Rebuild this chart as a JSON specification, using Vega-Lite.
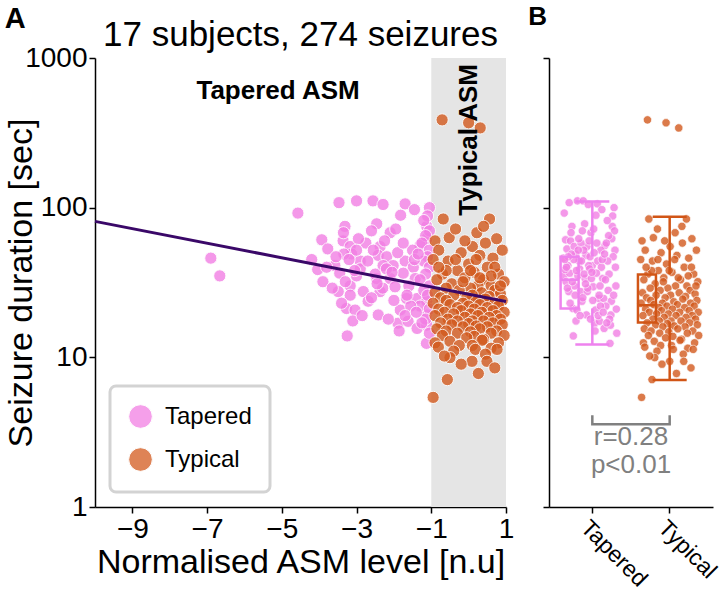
{
"$schema": "https://vega.github.io/schema/vega-lite/v6.json",
"background": "white",
"padding": {"left": 4, "top": 4, "right": 0, "bottom": 4},
"config": {
  "font": "Liberation Sans",
  "view": {"stroke": null},
  "axis": {"grid": false, "domainColor": "black", "domainWidth": 1.5, "tickColor": "black", "tickWidth": 1.5, "tickSize": 6, "labelColor": "black", "labelFontSize": 28, "labelFont": "Liberation Sans", "titleFont": "Liberation Sans", "titleFontWeight": "normal", "titleColor": "black", "titleFontSize": 34, "labelPadding": 2, "labelOverlap": false, "labelFlush": false},
  "legend": {"strokeWidth": 3, "strokeColor": "#d3d3d3", "cornerRadius": 6, "fillColor": "white"},
  "title": {"font": "Liberation Sans", "color": "black"}
},
"title": {"text": "A", "anchor": "start", "frame": "bounds", "fontSize": 29, "fontWeight": "bold", "offset": -30, "dx": 0},
"datasets": {
  "stats": [
    {"g": "Tapered", "lo": 12.2, "q1": 21.2, "med": 33, "q3": 47, "hi": 110},
    {"g": "Typical", "lo": 7.06, "q1": 17.1, "med": 22.3, "q3": 35.7, "hi": 87}
  ],
  "pts": [
{"g":"Tapered","x":-6.9,"y":46},{"g":"Tapered","x":-6.66,"y":35},{"g":"Tapered","x":-4.57,"y":92},{"g":"Tapered","x":-3.47,"y":108},{"g":"Tapered","x":-3.0,"y":111},{"g":"Tapered","x":-2.56,"y":111},{"g":"Tapered","x":-2.29,"y":105},{"g":"Tapered","x":-1.7,"y":106},{"g":"Tapered","x":-1.45,"y":97},{"g":"Tapered","x":-1.82,"y":89},
{"g":"Tapered","x":-3.31,"y":75},{"g":"Tapered","x":-2.46,"y":78},{"g":"Tapered","x":-2.6,"y":70},{"g":"Tapered","x":-2.1,"y":68},{"g":"Tapered","x":-3.93,"y":61},{"g":"Tapered","x":-3.77,"y":53},{"g":"Tapered","x":-3.36,"y":60},{"g":"Tapered","x":-3.17,"y":55},{"g":"Tapered","x":-3.13,"y":49},{"g":"Tapered","x":-3.34,"y":49},
{"g":"Tapered","x":-2.9,"y":44},{"g":"Tapered","x":-2.37,"y":55},{"g":"Tapered","x":-2.42,"y":48},{"g":"Tapered","x":-2.19,"y":47},{"g":"Tapered","x":-2.02,"y":41},{"g":"Tapered","x":-2.29,"y":41},{"g":"Tapered","x":-1.7,"y":44},{"g":"Tapered","x":-1.48,"y":40},{"g":"Tapered","x":-3.58,"y":41},{"g":"Tapered","x":-3.45,"y":36.5},
{"g":"Tapered","x":-4.04,"y":38.6},{"g":"Tapered","x":-3.9,"y":32},{"g":"Tapered","x":-3.49,"y":27.5},{"g":"Tapered","x":-3.17,"y":30},{"g":"Tapered","x":-2.82,"y":27.5},{"g":"Tapered","x":-3.17,"y":26},{"g":"Tapered","x":-3.27,"y":21.2},{"g":"Tapered","x":-3.04,"y":20.7},{"g":"Tapered","x":-2.69,"y":23.7},{"g":"Tapered","x":-2.37,"y":27.5},
{"g":"Tapered","x":-2.46,"y":33.6},{"g":"Tapered","x":-2.1,"y":33.6},{"g":"Tapered","x":-1.97,"y":29.6},{"g":"Tapered","x":-1.75,"y":36.5},{"g":"Tapered","x":-1.43,"y":33.6},{"g":"Tapered","x":-1.66,"y":24.7},{"g":"Tapered","x":-1.83,"y":20.7},{"g":"Tapered","x":-1.38,"y":24.7},{"g":"Tapered","x":-2.42,"y":19.2},{"g":"Tapered","x":-1.89,"y":16.9},
{"g":"Tapered","x":-1.62,"y":17.4},{"g":"Tapered","x":-1.38,"y":15.6},{"g":"Tapered","x":-1.86,"y":15},{"g":"Tapered","x":-3.25,"y":13.9},{"g":"Tapered","x":-1.12,"y":16.4},{"g":"Tapered","x":-1.12,"y":19.2},{"g":"Tapered","x":-1.12,"y":23.7},{"g":"Tapered","x":-1.12,"y":62},{"g":"Tapered","x":-1.12,"y":75},{"g":"Tapered","x":-1.3,"y":56},
{"g":"Tapered","x":-1.13,"y":12.4},{"g":"Tapered","x":-3.0,"y":35},{"g":"Tapered","x":-2.9,"y":39},{"g":"Tapered","x":-2.2,"y":39},
{"g":"Tapered","x":-1.05,"y":100},{"g":"Tapered","x":-1.1,"y":88},{"g":"Tapered","x":-1.2,"y":82},{"g":"Tapered","x":-1.05,"y":70},{"g":"Tapered","x":-1.15,"y":65},{"g":"Tapered","x":-1.25,"y":58},{"g":"Tapered","x":-1.05,"y":52},{"g":"Tapered","x":-1.1,"y":47},{"g":"Tapered","x":-1.2,"y":44},{"g":"Tapered","x":-1.05,"y":40},
{"g":"Tapered","x":-1.15,"y":36},{"g":"Tapered","x":-1.3,"y":33},{"g":"Tapered","x":-1.05,"y":30},{"g":"Tapered","x":-1.2,"y":28},{"g":"Tapered","x":-1.1,"y":26},{"g":"Tapered","x":-1.3,"y":22},{"g":"Tapered","x":-1.05,"y":21},{"g":"Tapered","x":-1.15,"y":18},{"g":"Tapered","x":-1.25,"y":17},{"g":"Tapered","x":-1.05,"y":14.5},
{"g":"Tapered","x":-1.5,"y":52},{"g":"Tapered","x":-1.6,"y":30},{"g":"Tapered","x":-1.55,"y":22},{"g":"Tapered","x":-1.7,"y":19},{"g":"Tapered","x":-1.45,"y":45},{"g":"Tapered","x":-1.9,"y":50},{"g":"Tapered","x":-2.0,"y":24},{"g":"Tapered","x":-2.15,"y":18},{"g":"Tapered","x":-2.3,"y":29},{"g":"Tapered","x":-2.5,"y":36},
{"g":"Tapered","x":-2.6,"y":25},{"g":"Tapered","x":-2.7,"y":44},{"g":"Tapered","x":-2.75,"y":58},{"g":"Tapered","x":-2.95,"y":62},{"g":"Tapered","x":-3.05,"y":38},{"g":"Tapered","x":-3.2,"y":45},{"g":"Tapered","x":-3.3,"y":32},{"g":"Tapered","x":-3.4,"y":23},{"g":"Tapered","x":-3.55,"y":47},{"g":"Tapered","x":-3.65,"y":29},
{"g":"Tapered","x":-3.8,"y":40},{"g":"Tapered","x":-4.2,"y":45},{"g":"Tapered","x":-3.1,"y":17.5},{"g":"Tapered","x":-2.85,"y":19},{"g":"Tapered","x":-2.55,"y":52},{"g":"Tapered","x":-2.25,"y":60},{"g":"Tapered","x":-1.95,"y":72},{"g":"Tapered","x":-1.75,"y":58},{"g":"Tapered","x":-1.65,"y":26},{"g":"Tapered","x":-1.35,"y":49},
{"g":"Tapered","x":-2.05,"y":37},{"g":"Tapered","x":-2.45,"y":31},{"g":"Tapered","x":-3.0,"y":52},{"g":"Tapered","x":-3.35,"y":68},{"g":"Tapered","x":-1.4,"y":20},
{"g":"Typical","x":-0.71,"y":386},{"g":"Typical","x":0.0,"y":369},{"g":"Typical","x":0.31,"y":341},
{"g":"Typical","x":-0.68,"y":84},{"g":"Typical","x":0.56,"y":84},{"g":"Typical","x":0.22,"y":68},{"g":"Typical","x":-0.52,"y":63},{"g":"Typical","x":-0.9,"y":60},{"g":"Typical","x":-0.35,"y":72},{"g":"Typical","x":0.1,"y":55},{"g":"Typical","x":0.45,"y":58},{"g":"Typical","x":0.75,"y":62},{"g":"Typical","x":-0.8,"y":52},
{"g":"Typical","x":-0.2,"y":50},{"g":"Typical","x":0.3,"y":48},{"g":"Typical","x":0.65,"y":46},{"g":"Typical","x":0.9,"y":52},{"g":"Typical","x":-0.95,"y":45},{"g":"Typical","x":-0.55,"y":44},{"g":"Typical","x":0.0,"y":42},{"g":"Typical","x":0.5,"y":40},{"g":"Typical","x":-0.3,"y":38},{"g":"Typical","x":0.15,"y":37},
{"g":"Typical","x":0.8,"y":36},{"g":"Typical","x":-0.7,"y":36},{"g":"Typical","x":-0.1,"y":34},{"g":"Typical","x":0.4,"y":33},{"g":"Typical","x":0.95,"y":32},{"g":"Typical","x":-0.85,"y":33},{"g":"Typical","x":-0.45,"y":31},{"g":"Typical","x":0.25,"y":30},{"g":"Typical","x":0.6,"y":30},{"g":"Typical","x":-0.6,"y":29},
{"g":"Typical","x":0.05,"y":29},{"g":"Typical","x":0.7,"y":28},{"g":"Typical","x":-0.25,"y":28},{"g":"Typical","x":0.35,"y":27},{"g":"Typical","x":-0.9,"y":27},{"g":"Typical","x":0.85,"y":26.5},{"g":"Typical","x":-0.4,"y":26},{"g":"Typical","x":0.1,"y":26},{"g":"Typical","x":0.55,"y":25.5},{"g":"Typical","x":-0.75,"y":25},
{"g":"Typical","x":-0.05,"y":25},{"g":"Typical","x":0.45,"y":24.5},{"g":"Typical","x":0.9,"y":24},{"g":"Typical","x":-0.6,"y":24},{"g":"Typical","x":0.2,"y":23.5},{"g":"Typical","x":-0.15,"y":23},{"g":"Typical","x":0.7,"y":23},{"g":"Typical","x":-0.95,"y":23},{"g":"Typical","x":0.3,"y":22.5},{"g":"Typical","x":-0.5,"y":22.5},
{"g":"Typical","x":0.0,"y":22},{"g":"Typical","x":0.8,"y":22},{"g":"Typical","x":-0.3,"y":21.5},{"g":"Typical","x":0.5,"y":21.5},{"g":"Typical","x":-0.8,"y":21},{"g":"Typical","x":0.15,"y":21},{"g":"Typical","x":0.65,"y":20.5},{"g":"Typical","x":-0.2,"y":20.5},{"g":"Typical","x":0.95,"y":20},{"g":"Typical","x":-0.65,"y":20},
{"g":"Typical","x":0.35,"y":20},{"g":"Typical","x":-0.4,"y":19.5},{"g":"Typical","x":0.05,"y":19.5},{"g":"Typical","x":0.75,"y":19},{"g":"Typical","x":-0.9,"y":19},{"g":"Typical","x":0.25,"y":19},{"g":"Typical","x":-0.1,"y":18.5},{"g":"Typical","x":0.55,"y":18.5},{"g":"Typical","x":-0.55,"y":18},{"g":"Typical","x":0.85,"y":18},
{"g":"Typical","x":0.1,"y":17.5},{"g":"Typical","x":-0.3,"y":17.5},{"g":"Typical","x":0.4,"y":17.5},{"g":"Typical","x":-0.75,"y":17},{"g":"Typical","x":0.65,"y":17},{"g":"Typical","x":0.0,"y":16.8},{"g":"Typical","x":-0.45,"y":16.5},{"g":"Typical","x":0.9,"y":16.5},{"g":"Typical","x":0.2,"y":16.2},{"g":"Typical","x":-0.15,"y":16},
{"g":"Typical","x":0.5,"y":16},{"g":"Typical","x":-0.85,"y":15.5},{"g":"Typical","x":0.3,"y":15.5},{"g":"Typical","x":0.75,"y":15},{"g":"Typical","x":-0.6,"y":15},{"g":"Typical","x":0.05,"y":14.8},{"g":"Typical","x":-0.3,"y":14.5},{"g":"Typical","x":0.6,"y":14.5},{"g":"Typical","x":0.95,"y":14},{"g":"Typical","x":-0.7,"y":14},
{"g":"Typical","x":0.15,"y":13.8},{"g":"Typical","x":-0.05,"y":13.5},{"g":"Typical","x":0.4,"y":13.2},{"g":"Typical","x":0.36,"y":13},{"g":"Typical","x":-0.5,"y":12.8},{"g":"Typical","x":0.8,"y":12.5},{"g":"Typical","x":-0.9,"y":12.5},{"g":"Typical","x":0.1,"y":12},{"g":"Typical","x":-0.25,"y":12},{"g":"Typical","x":0.6,"y":11.5},
{"g":"Typical","x":0.76,"y":11.3},{"g":"Typical","x":0.18,"y":11.3},{"g":"Typical","x":-0.81,"y":11.7},{"g":"Typical","x":-0.4,"y":11},{"g":"Typical","x":0.45,"y":10.5},{"g":"Typical","x":-0.5,"y":9.95},{"g":"Typical","x":0.09,"y":9.4},{"g":"Typical","x":0.49,"y":9.4},{"g":"Typical","x":-0.2,"y":9},{"g":"Typical","x":0.26,"y":7.8},
{"g":"Typical","x":-0.57,"y":7.1},{"g":"Typical","x":-0.95,"y":5.4},{"g":"Typical","x":0.7,"y":8.5},{"g":"Typical","x":-0.65,"y":10.2},
{"g":"Typical","x":-0.35,"y":45},{"g":"Typical","x":0.2,"y":45},{"g":"Typical","x":0.7,"y":40},{"g":"Typical","x":-0.1,"y":60},{"g":"Typical","x":0.4,"y":75},{"g":"Typical","x":-0.6,"y":38},{"g":"Typical","x":0.85,"y":30},{"g":"Typical","x":-0.15,"y":32},{"g":"Typical","x":0.6,"y":35},{"g":"Typical","x":-0.8,"y":40},
{"g":"Typical","x":0.05,"y":38},{"g":"Typical","x":0.3,"y":34}
  ]
},
"resolve": {"scale": {"color": "independent"}, "legend": {"color": "independent"}},
"spacing": 14,
"hconcat": [
  {
    "width": 411, "height": 449,
    "title": {"text": "17 subjects, 274 seizures", "fontSize": 35, "fontWeight": "normal", "anchor": "middle", "offset": -9},
    "layer": [
      {
        "data": {"values": [{"lo": -1, "hi": 1}]},
        "mark": {"type": "rect", "color": "#e5e5e5"},
        "encoding": {
          "x": {"field": "lo", "type": "quantitative", "scale": {"domain": [-10, 1], "nice": false, "zero": false},
                "axis": {"values": [-9, -7, -5, -3, -1, 1], "format": "d", "title": "Normalised ASM level [n.u]", "titlePadding": 2}},
          "x2": {"field": "hi"}
        }
      },
      {
        "data": {"name": "pts"},
        "mark": {"type": "circle", "size": 150, "opacity": 0.8, "stroke": "white", "strokeWidth": 1},
        "encoding": {
          "x": {"field": "x", "type": "quantitative"},
          "y": {"field": "y", "type": "quantitative", "scale": {"type": "log", "domain": [1, 1000], "nice": false},
                "axis": {"values": [1, 10, 100, 1000], "format": "d", "title": "Seizure duration [sec]", "titlePadding": -14}},
          "color": {"field": "g", "type": "nominal", "scale": {"domain": ["Tapered", "Typical"], "range": ["#f27fe4", "#d35a1e"]},
                    "legend": {"title": null, "orient": "bottom-left", "offset": 15, "padding": 18, "labelFontSize": 24, "labelFont": "Liberation Sans", "labelColor": "black", "symbolSize": 560, "symbolType": "circle", "rowPadding": 14, "labelOffset": 12, "symbolStrokeColor": "white", "symbolStrokeWidth": 1, "symbolOpacity": 0.75}}
        }
      },
      {
        "data": {"values": [{"x": -10, "y": 81}, {"x": 1, "y": 23.6}]},
        "mark": {"type": "line", "color": "#3a0868", "strokeWidth": 3},
        "encoding": {"x": {"field": "x", "type": "quantitative"}, "y": {"field": "y", "type": "quantitative"}}
      },
      {
        "data": {"values": [{"t": "Tapered ASM", "x": -5.1, "y": 600}]},
        "mark": {"type": "text", "fontSize": 26, "fontWeight": "bold", "color": "black"},
        "encoding": {"x": {"field": "x", "type": "quantitative"}, "y": {"field": "y", "type": "quantitative"}, "text": {"field": "t"}}
      },
      {
        "data": {"values": [{"t": "Typical ASM", "x": 0, "y": 284}]},
        "mark": {"type": "text", "fontSize": 26, "fontWeight": "bold", "color": "black", "angle": 270},
        "encoding": {"x": {"field": "x", "type": "quantitative"}, "y": {"field": "y", "type": "quantitative"}, "text": {"field": "t"}}
      }
    ]
  },
  {
    "width": 164, "height": 449,
    "title": {"text": "B", "anchor": "start", "frame": "bounds", "fontSize": 26, "fontWeight": "bold", "offset": 27, "dx": -14},
    "layer": [
      {
        "data": {"name": "pts"},
        "transform": [{"window": [{"op": "row_number", "as": "rk"}], "groupby": ["g"], "sort": [{"field": "x", "order": "ascending"}]}],
        "mark": {"type": "circle", "size": 70, "opacity": 0.8, "stroke": "white", "strokeWidth": 0.7},
        "encoding": {
          "x": {"field": "g", "type": "nominal", "scale": {"domain": ["Tapered", "Typical"], "paddingInner": 0.18, "paddingOuter": 0.15},
                "axis": {"title": null, "labelAngle": 45, "labelAlign": "left", "labelBaseline": "top", "labelFontSize": 23, "labelPadding": 3}},
          "xOffset": {"field": "rk", "type": "quantitative", "scale": {"domain": [-5, 135]}},
          "y": {"field": "y", "type": "quantitative", "scale": {"type": "log", "domain": [1, 1000], "nice": false},
                "axis": {"values": [1, 10, 100, 1000], "labels": false, "title": null}},
          "color": {"field": "g", "type": "nominal", "scale": {"domain": ["Tapered", "Typical"], "range": ["#f27fe4", "#d35a1e"]}, "legend": null}
        }
      },
      {
        "data": {"name": "stats"},
        "mark": {"type": "bar", "fill": "transparent", "strokeWidth": 2.5},
        "encoding": {
          "x": {"field": "g", "type": "nominal"},
          "y": {"field": "q1", "type": "quantitative"}, "y2": {"field": "q3"},
          "stroke": {"field": "g", "type": "nominal", "scale": {"domain": ["Tapered", "Typical"], "range": ["#ee82ee", "#d15516"]}, "legend": null}
        }
      },
      {
        "data": {"name": "stats"},
        "mark": {"type": "bar", "fill": "transparent", "strokeWidth": 2.5},
        "encoding": {
          "x": {"field": "g", "type": "nominal"},
          "y": {"field": "med", "type": "quantitative"}, "y2": {"field": "med"},
          "stroke": {"field": "g", "type": "nominal", "legend": null}
        }
      },
      {
        "data": {"name": "stats"},
        "mark": {"type": "rule", "strokeWidth": 2.5},
        "encoding": {
          "x": {"field": "g", "type": "nominal"},
          "y": {"field": "q3", "type": "quantitative"}, "y2": {"field": "hi"},
          "stroke": {"field": "g", "type": "nominal", "legend": null}
        }
      },
      {
        "data": {"name": "stats"},
        "mark": {"type": "rule", "strokeWidth": 2.5},
        "encoding": {
          "x": {"field": "g", "type": "nominal"},
          "y": {"field": "lo", "type": "quantitative"}, "y2": {"field": "q1"},
          "stroke": {"field": "g", "type": "nominal", "legend": null}
        }
      },
      {
        "data": {"name": "stats"},
        "mark": {"type": "tick", "size": 34, "thickness": 2.5, "opacity": 1},
        "encoding": {
          "x": {"field": "g", "type": "nominal"},
          "y": {"field": "hi", "type": "quantitative"},
          "fill": {"field": "g", "type": "nominal", "scale": {"domain": ["Tapered", "Typical"], "range": ["#ee82ee", "#d15516"]}, "legend": null}
        }
      },
      {
        "data": {"name": "stats"},
        "mark": {"type": "tick", "size": 34, "thickness": 2.5, "opacity": 1},
        "encoding": {
          "x": {"field": "g", "type": "nominal"},
          "y": {"field": "lo", "type": "quantitative"},
          "fill": {"field": "g", "type": "nominal", "legend": null}
        }
      },
      {
        "data": {"values": [{"g": "Tapered", "y": 4.1, "o": 1}, {"g": "Tapered", "y": 3.57, "o": 2}, {"g": "Typical", "y": 3.57, "o": 3}, {"g": "Typical", "y": 4.1, "o": 4}]},
        "mark": {"type": "line", "color": "#808080", "strokeWidth": 2.5},
        "encoding": {"x": {"field": "g", "type": "nominal"}, "y": {"field": "y", "type": "quantitative"}, "order": {"field": "o", "type": "quantitative"}}
      },
      {
        "data": {"values": [{"t": "r=0.28", "y": 2.93}, {"t": "p<0.01", "y": 1.9}]},
        "mark": {"type": "text", "fontSize": 26, "color": "#808080"},
        "encoding": {"y": {"field": "y", "type": "quantitative"}, "text": {"field": "t"}}
      }
    ]
  }
]
}
